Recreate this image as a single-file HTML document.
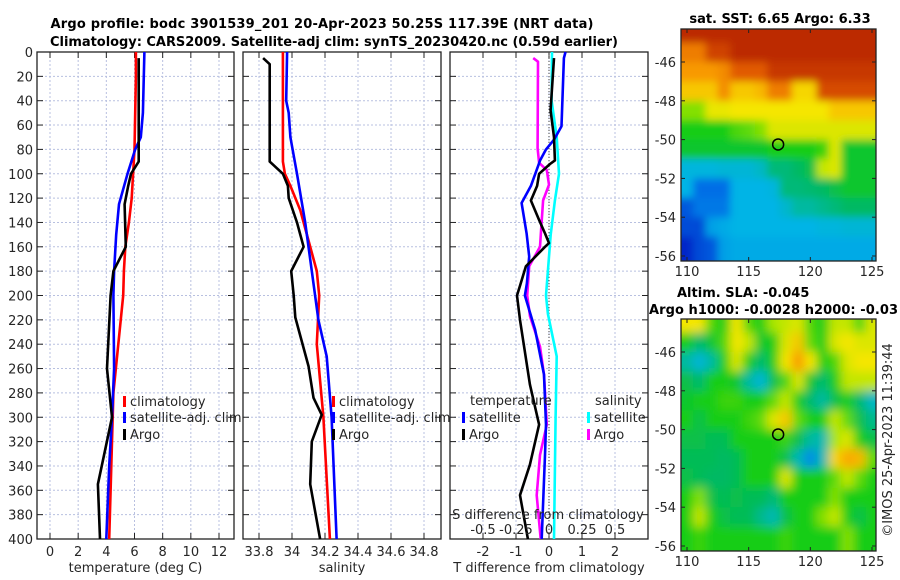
<!DOCTYPE html>
<html><head><meta charset="utf-8"><style>
body{margin:0;background:#fff}
svg{display:block;font-family:"DejaVu Sans","Liberation Sans",sans-serif}
</style></head><body>
<svg id="c" width="900" height="580" viewBox="0 0 900 580">
<defs>
<filter id="blurA" x="-10%" y="-10%" width="120%" height="120%"><feGaussianBlur stdDeviation="5"/></filter>
<filter id="blurB" x="-10%" y="-10%" width="120%" height="120%"><feGaussianBlur stdDeviation="4"/></filter>
<clipPath id="clipM1"><rect x="681" y="29" width="195" height="232"/></clipPath>
<clipPath id="clipM2"><rect x="681" y="319" width="195" height="232"/></clipPath>
</defs>
<text x="322" y="28" text-anchor="middle" font-weight="bold" font-size="13" textLength="543">Argo profile: bodc 3901539_201 20-Apr-2023 50.25S 117.39E (NRT data)</text>
<text x="334" y="46" text-anchor="middle" font-weight="bold" font-size="13" textLength="568">Climatology: CARS2009. Satellite-adj clim: synTS_20230420.nc (0.59d earlier)</text>
</svg>
<script>
// ---- data ----
const tClimDepth=[0,20,50,80,100,120,140,160,180,200,240,280,320,360,400];
const tClim=[6.1,6.1,6.05,6.0,5.9,5.8,5.6,5.35,5.25,5.2,4.85,4.5,4.4,4.3,4.2];
const tSatDepth=[0,50,70,80,100,125,150,180,200,260,300,340,400];
const tSat=[6.7,6.6,6.45,6.05,5.5,4.9,4.7,4.55,4.5,4.55,4.4,4.2,4.0];
const tArgoDepth=[5,90,100,110,125,160,180,200,260,300,355,400];
const tArgo=[6.3,6.3,5.75,5.55,5.3,5.38,4.5,4.3,4.05,4.4,3.4,3.55];
const sClimDepth=[0,90,100,110,130,150,180,200,240,300,400];
const sClim=[33.945,33.945,33.957,33.99,34.05,34.09,34.15,34.165,34.15,34.19,34.23];
const sSatDepth=[0,40,50,70,100,140,180,220,250,300,400];
const sSat=[33.97,33.965,33.98,33.99,34.03,34.08,34.12,34.16,34.21,34.24,34.27];
const sArgoDepth=[5,10,90,100,110,120,140,160,180,200,218,258,284,298,320,355,400];
const sArgo=[33.825,33.865,33.865,33.945,33.975,33.98,34.03,34.07,33.995,34.01,34.02,34.1,34.13,34.18,34.12,34.11,34.17];
const dTSatDepth=[0,5,61,72,80,89,110,124,149,168,190,200,228,265,306,331,400];
const dTSat=[0.5,0.45,0.38,0.15,-0.09,-0.27,-0.55,-0.83,-0.68,-0.6,-0.67,-0.73,-0.42,-0.15,-0.09,-0.12,-0.22];
const dTArgoDepth=[5,35,48,70,89,92,100,110,122,138,149,157,160,176,192,200,220,273,306,339,364,400];
const dTArgo=[0.15,0.08,0.05,0.15,0.18,0.03,-0.3,-0.36,-0.55,-0.3,-0.12,0,-0.12,-0.7,-0.88,-0.97,-0.88,-0.58,-0.3,-0.58,-0.88,-0.64];
const dSSatDepth=[0,40,70,100,122,150,200,215,250,300,400];
const dSSat=[0.023,0.02,0.058,0.076,0.045,0.013,-0.023,-0.008,0.058,0.05,0.038];
const dSArgoDepth=[5,8,79,91,97,109,122,146,160,176,200,217,242,265,306,331,364,400];
const dSArgo=[-0.12,-0.083,-0.086,-0.075,-0.017,0,-0.045,-0.06,-0.068,-0.15,-0.165,-0.144,-0.068,-0.038,-0.017,-0.068,-0.093,-0.063];
const depthTicks=[0,20,40,60,80,100,120,140,160,180,200,220,240,260,280,300,320,340,360,380,400];
const tTicks=[0,2,4,6,8,10,12];
const sTicks=[33.8,34,34.2,34.4,34.6,34.8];
const sTickLabels=["33.8","34","34.2","34.4","34.6","34.8"];
const dTTicks=[-2,-1,0,1,2];
const dSTicks=[-0.5,-0.25,0,0.25,0.5];
const dSTickLabels=["-0.5","-0.25","0","0.25","0.5"];
const mapLonTicks=[110,115,120,125];
const mapLatTicks=[-46,-48,-50,-52,-54,-56];
const mapLons=[110,111,112,113,114,115,116,117,118,119,120,121,122,123,124,125];
const mapLats=[-44.5,-45.5,-46.5,-47.5,-48.5,-49.5,-50.5,-51.5,-52.5,-53.5,-54.5,-55.5];
const sstGrid=[
[.95,.95,.95,.95,.95,.95,.95,.95,.95,.95,.95,.95,.95,.95,.95,.95],
[.8,.8,.9,.9,.95,.95,.95,.95,.95,.95,.95,.95,.95,.95,.95,.95],
[.76,.76,.76,.78,.85,.85,.85,.92,.92,.92,.92,.92,.92,.92,.92,.92],
[.7,.7,.7,.78,.7,.7,.72,.8,.8,.68,.68,.88,.88,.88,.88,.88],
[.58,.58,.65,.65,.66,.66,.66,.66,.66,.66,.66,.66,.7,.7,.7,.7],
[.52,.52,.52,.52,.55,.56,.58,.64,.64,.64,.64,.64,.64,.64,.64,.64],
[.5,.5,.5,.5,.5,.5,.5,.52,.52,.52,.52,.54,.64,.5,.5,.5],
[.33,.33,.33,.34,.34,.34,.36,.44,.44,.46,.48,.62,.64,.5,.5,.5],
[.32,.25,.25,.25,.32,.32,.32,.33,.44,.44,.45,.46,.48,.5,.5,.5],
[.22,.26,.26,.26,.32,.32,.32,.32,.35,.4,.4,.42,.44,.46,.46,.46],
[.2,.2,.3,.31,.32,.32,.32,.32,.32,.32,.32,.33,.33,.34,.34,.34],
[.15,.2,.22,.3,.31,.31,.31,.31,.31,.31,.31,.31,.31,.31,.31,.31]];
const slaGrid=[
[.66,.66,.55,.52,.66,.55,.52,.6,.62,.64,.55,.52,.62,.62,.55,.64],
[.52,.45,.5,.55,.66,.62,.5,.52,.64,.7,.56,.52,.64,.66,.64,.64],
[.4,.34,.4,.52,.64,.52,.45,.52,.66,.76,.66,.52,.55,.64,.66,.66],
[.48,.45,.52,.52,.5,.4,.34,.48,.55,.64,.5,.45,.52,.62,.62,.62],
[.5,.52,.52,.54,.54,.52,.52,.56,.62,.52,.45,.4,.48,.52,.45,.36],
[.52,.48,.52,.52,.52,.54,.56,.64,.7,.56,.52,.52,.62,.56,.48,.42],
[.48,.48,.47,.47,.52,.52,.52,.52,.54,.48,.4,.38,.6,.64,.52,.48],
[.47,.47,.47,.46,.47,.52,.52,.52,.48,.38,.28,.38,.68,.74,.72,.56],
[.48,.47,.46,.46,.47,.52,.52,.52,.64,.52,.52,.52,.56,.62,.56,.52],
[.52,.58,.48,.47,.48,.47,.47,.44,.52,.52,.52,.52,.58,.52,.52,.52],
[.52,.62,.52,.48,.47,.47,.42,.38,.48,.52,.52,.58,.62,.52,.48,.52],
[.52,.54,.52,.52,.52,.52,.52,.52,.54,.52,.52,.52,.52,.58,.52,.52]];
const argoLon=117.39, argoLat=-50.25;

// ---- helpers ----
const NS="http://www.w3.org/2000/svg";
const svg=document.getElementById('c');
function mk(tag,attrs,parent){const e=document.createElementNS(NS,tag);for(const k in attrs)e.setAttribute(k,attrs[k]);(parent||svg).appendChild(e);return e;}
const yD=d=>52+d*(487/400);
const PY0=52,PY1=539;
function lin(d0,d1,r0,r1){return v=>r0+(v-d0)*(r1-r0)/(d1-d0);}
const xT=lin(0,12,50,219), xS=lin(33.8,34.8,259,424), xDT=lin(-2,2,483,615), xDS=v=>xDT(v*4);

function panel(name,x0,x1,xf,ticks,labels,title,showY){
  const g=mk('g',{});
  
  
  ticks.forEach(t=>{mk('line',{x1:xf(t),x2:xf(t),y1:PY0,y2:PY1,stroke:'#b8c0e0','stroke-width':1,'stroke-dasharray':'2,2'},g);});
  depthTicks.forEach(d=>{
    mk('line',{x1:x0,x2:x1,y1:yD(d),y2:yD(d),stroke:'#b8c0e0','stroke-width':1,'stroke-dasharray':'2,2'},g);
    mk('line',{x1:x0,x2:x0+6,y1:yD(d),y2:yD(d),stroke:'#222','stroke-width':1},g);
    mk('line',{x1:x1-6,x2:x1,y1:yD(d),y2:yD(d),stroke:'#222','stroke-width':1},g);
    if(showY){const t=mk('text',{x:x0-4,y:yD(d)+5,'text-anchor':'end','font-size':13,fill:'#262626'},g);t.textContent=d;
      
      }
  });
  ticks.forEach((t,i)=>{
    mk('line',{x1:xf(t),x2:xf(t),y1:PY1-6,y2:PY1,stroke:'#222'},g);
    mk('line',{x1:xf(t),x2:xf(t),y1:PY0,y2:PY0+6,stroke:'#222'},g);
    const tx=mk('text',{x:xf(t),y:556,'text-anchor':'middle','font-size':13,fill:'#262626'},g);tx.textContent=labels[i];
    
    
  });
  mk('rect',{x:x0,y:PY0,width:x1-x0,height:PY1-PY0,fill:'none',stroke:'#222','stroke-width':1.3},g);
  const at=mk('text',{x:(x0+x1)/2,y:572,'text-anchor':'middle','font-size':13,fill:'#262626'},g);at.textContent=title;
  
  
  return g;
}
function series(name,depths,vals,xf,color){
  const pts=depths.map((d,i)=>xf(vals[i]).toFixed(1)+','+yD(d).toFixed(1)).join(' ');
  const p=mk('polyline',{points:pts,fill:'none',stroke:color,'stroke-width':2.6,'stroke-linejoin':'round'});
  
  
}
function legend(name,x,y,color,label){
  const g=mk('g',{});
  
  
  mk('rect',{x:x,y:y-10,width:3,height:11,fill:color},g);
  const t=mk('text',{x:x+7,y:y,'font-size':13,fill:'#262626'},g);t.textContent=label;
}

panel('temperature-panel',37,234,xT,tTicks,tTicks.map(String),'temperature (deg C)',true);
series('temperature-climatology-line',tClimDepth,tClim,xT,'#f00');
series('temperature-satellite-line',tSatDepth,tSat,xT,'#00f');
series('temperature-argo-line',tArgoDepth,tArgo,xT,'#000');
legend('legend-climatology',123,406,'#f00','climatology');
legend('legend-satellite-adj',123,422,'#00f','satellite-adj. clim');
legend('legend-argo',123,439,'#000','Argo');
panel('salinity-panel',243,441,xS,sTicks,sTickLabels,'salinity',false);
series('salinity-climatology-line',sClimDepth,sClim,xS,'#f00');
series('salinity-satellite-line',sSatDepth,sSat,xS,'#00f');
series('salinity-argo-line',sArgoDepth,sArgo,xS,'#000');
legend('legend-climatology-2',332,406,'#f00','climatology');
legend('legend-satellite-adj-2',332,422,'#00f','satellite-adj. clim');
legend('legend-argo-2',332,439,'#000','Argo');
panel('difference-panel',450,648,xDT,dTTicks,dTTicks.map(String),'T difference from climatology',false);
mk('line',{x1:xDT(0),x2:xDT(0),y1:PY0,y2:PY1,stroke:'#444','stroke-width':1,'stroke-dasharray':'1,2'});
series('salinity-satellite-diff-line',dSSatDepth,dSSat,xDS,'#0ff');
series('salinity-argo-diff-line',dSArgoDepth,dSArgo,xDS,'#f0f');
series('temperature-satellite-diff-line',dTSatDepth,dTSat,xDT,'#00f');
series('temperature-argo-diff-line',dTArgoDepth,dTArgo,xDT,'#000');
(function(){
  const t1=mk('text',{x:470,y:405,'font-size':13,fill:'#262626'});t1.textContent='temperature';
  
  
  const t2=mk('text',{x:595,y:405,'font-size':13,fill:'#262626'});t2.textContent='salinity';
  
  
})();
legend('legend-t-satellite',462,422,'#00f','satellite');
legend('legend-t-argo',462,439,'#000','Argo');
legend('legend-s-satellite',587,422,'#0ff','satellite');
legend('legend-s-argo',587,439,'#f0f','Argo');
(function(){
  const t=mk('text',{x:548,y:519,'text-anchor':'middle','font-size':13,fill:'#262626'});t.textContent='S difference from climatology';
  
  
  dSTicks.forEach((v,i)=>{const l=mk('text',{x:xDS(v),y:534,'text-anchor':'middle','font-size':13,fill:'#262626'});l.textContent=dSTickLabels[i];
    
    });
})();

// ---- maps ----
const cstops=[[0,[0,0,140]],[.15,[0,40,200]],[.25,[0,110,230]],[.32,[0,180,230]],[.4,[0,185,160]],[.46,[0,185,100]],[.52,[20,205,20]],[.6,[170,230,0]],[.66,[245,230,0]],[.75,[250,160,0]],[.85,[225,90,0]],[1,[170,20,0]]];
function cmap(v){for(let i=1;i<cstops.length;i++){if(v<=cstops[i][0]){const a=cstops[i-1],b=cstops[i],f=(v-a[0])/(b[0]-a[0]);return 'rgb('+a[1].map((c,k)=>Math.round(c+(b[1][k]-c)*f)).join(',')+')';}}return 'rgb(170,20,0)';}
function mapPanel(name,top,grid,clip,filt){
  const lonX=lin(110,125,687,872), latY=lin(-46,-56,top+33,top+227);
  const x0=681,x1=876,y0=top,y1=top+232;
  const outer=mk('g',{'clip-path':'url(#'+clip+')'});
  
  
  const g=mk('g',{filter:'url(#'+filt+')'},outer);
  const cw=lonX(111)-lonX(110), ch=latY(-47)-latY(-46);
  grid.forEach((row,r)=>row.forEach((v,c)=>{
    let x=lonX(mapLons[c])-cw/2, y=latY(mapLats[r])-ch/2, w=cw+0.6, h=ch+0.6;
    if(c===0){x-=20;w+=20;} if(c===row.length-1){w+=20;}
    if(r===0){y-=20;h+=20;} if(r===grid.length-1){h+=20;}
    const cell=mk('rect',{x:x,y:y,width:w,height:h,fill:cmap(v)},g);
    
    
  }));
  const m=mk('circle',{cx:lonX(argoLon),cy:latY(argoLat),r:5.5,fill:'none',stroke:'#000','stroke-width':1.5});
  
  
  mk('rect',{x:x0,y:y0,width:x1-x0,height:y1-y0,fill:'none',stroke:'#222','stroke-width':1.3});
  mapLatTicks.forEach(l=>{
    mk('line',{x1:x0,x2:x0+4,y1:latY(l),y2:latY(l),stroke:'#222'});
    mk('line',{x1:x1-4,x2:x1,y1:latY(l),y2:latY(l),stroke:'#222'});
    const t=mk('text',{x:x0-5,y:latY(l)+5,'text-anchor':'end','font-size':13,fill:'#262626'});t.textContent=l;
    
    
  });
  mapLonTicks.forEach(l=>{
    mk('line',{x1:lonX(l),x2:lonX(l),y1:y1-4,y2:y1,stroke:'#222'});
    mk('line',{x1:lonX(l),x2:lonX(l),y1:y0,y2:y0+4,stroke:'#222'});
    const t=mk('text',{x:lonX(l),y:y1+15,'text-anchor':'middle','font-size':13,fill:'#262626'});t.textContent=l;
    
    
  });
}
mapPanel('sst-map',29,sstGrid,'clipM1','blurB');
mapPanel('sla-map',319,slaGrid,'clipM2','blurA');
(function(){
  const a=mk('text',{x:780,y:23,'text-anchor':'middle','font-weight':'bold','font-size':13});a.textContent='sat. SST: 6.65 Argo: 6.33';
  
  
  const b=mk('text',{x:677,y:297,'font-weight':'bold','font-size':13});b.textContent='Altim. SLA: -0.045';
  
  
  const c=mk('text',{x:649,y:314,'font-weight':'bold','font-size':13,textLength:249});c.textContent='Argo h1000: -0.0028 h2000: -0.03';
  
  
  const d=mk('text',{x:892,y:440,'text-anchor':'middle','font-size':13,fill:'#262626',transform:'rotate(-90 892 440)'});d.textContent='©IMOS 25-Apr-2023 11:39:44';
  
  
})();
</script>
</body></html>
